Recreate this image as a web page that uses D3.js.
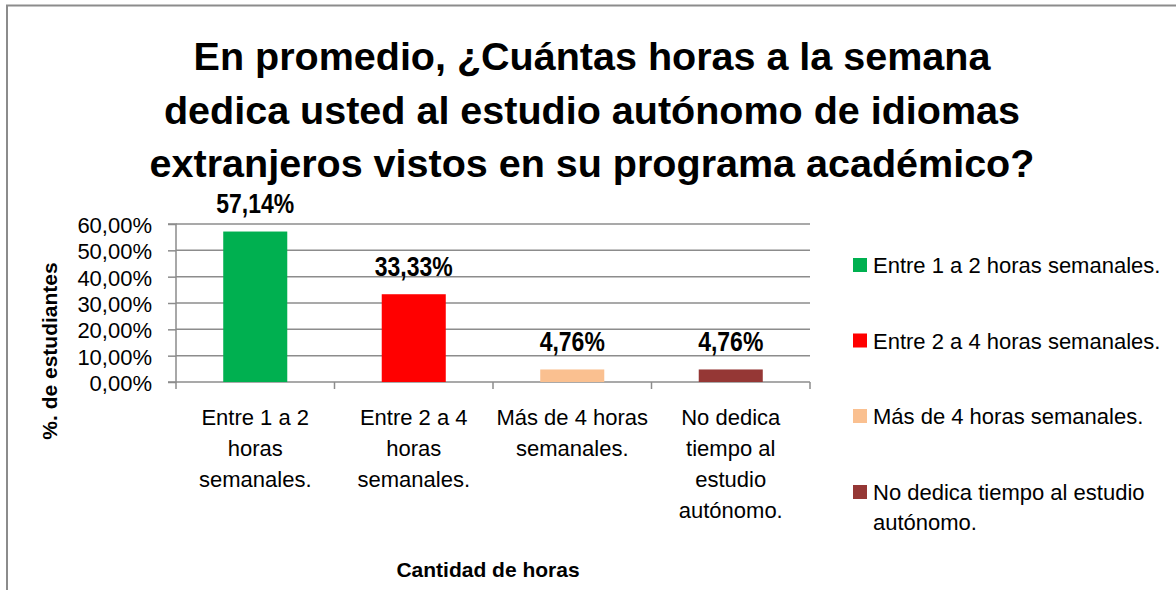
<!DOCTYPE html>
<html>
<head>
<meta charset="utf-8">
<script src="https://cdn.jsdelivr.net/npm/d3@7"></script>
<style>
  html, body { margin: 0; padding: 0; background: #fff; }
  svg { display: block; }
  text { font-family: "Liberation Sans", Arial, sans-serif; fill: #000; }
</style>
</head>
<body>
<svg id="chart" width="1176" height="590"></svg>
<script>
// ---- data ----
const titleLines = [
  "En promedio, ¿Cuántas horas a la semana",
  "dedica usted al estudio autónomo de idiomas",
  "extranjeros vistos en su programa académico?"
];
const categories = [
  "Entre 1 a 2 horas semanales.",
  "Entre 2 a 4 horas semanales.",
  "Más de 4 horas semanales.",
  "No dedica tiempo al estudio autónomo."
];
const values = [57.14, 33.33, 4.76, 4.76];
const valueLabels = ["57,14%", "33,33%", "4,76%", "4,76%"];
const yTicks = [0, 10, 20, 30, 40, 50, 60];
const yTickLabels = ["0,00%", "10,00%", "20,00%", "30,00%", "40,00%", "50,00%", "60,00%"];
const yAxisTitle = "%. de estudiantes";
const xAxisTitle = "Cantidad de horas";
const colors = ["#00B050", "#FF0000", "#FAC090", "#953735"];

// ---- layout ----
const svg = d3.select("#chart");
const plot = { left: 176, right: 810, top: 224, bottom: 382 };
const gridColor = "#8c8c8c";

// outer frame
svg.append("path")
  .attr("d", "M7,600 L7,5.5 L1180,5.5")
  .attr("fill", "none").attr("stroke", gridColor).attr("stroke-width", 2);

// title
titleLines.forEach((t, i) => {
  svg.append("text")
    .attr("transform", `translate(592,${70 + i * 53.5}) scale(1.04,1)`)
    .attr("text-anchor", "middle")
    .style("font-size", "38px").style("font-weight", "bold")
    .text(t);
});

const x = d3.scaleBand().domain(categories)
  .range([plot.left, plot.right]).paddingInner(0.596).paddingOuter(0.298);
const y = d3.scaleLinear().domain([0, 60]).range([plot.bottom, plot.top]);

// gridlines
svg.append("g").selectAll("line").data(yTicks.filter(d => d > 0)).join("line")
  .attr("x1", plot.left).attr("x2", plot.right)
  .attr("y1", d => y(d)).attr("y2", d => y(d))
  .attr("stroke", gridColor).attr("stroke-width", 1.5);

// y axis
const yAxis = d3.axisLeft(y).tickValues(yTicks).tickSize(8)
  .tickFormat((d, i) => yTickLabels[i]);
const gy = svg.append("g").attr("transform", `translate(${plot.left},0)`).call(yAxis);
gy.select(".domain").attr("stroke", gridColor).attr("stroke-width", 1.5).attr("d", `M-8,${plot.top}H0V${plot.bottom}H-8`);
gy.selectAll(".tick line").attr("stroke", gridColor).attr("stroke-width", 1.5);
gy.selectAll(".tick text")
  .attr("x", -24).attr("dy", null).attr("y", 8.5)
  .style("font-size", "22px").style("font-family", "'Liberation Sans', Arial, sans-serif").attr("fill", "#000");

// x axis line + ticks at band boundaries
const step = x.step();
const bounds = d3.range(categories.length + 1).map(i => plot.left + i * step);
svg.append("line").attr("x1", plot.left).attr("x2", plot.right)
  .attr("y1", plot.bottom).attr("y2", plot.bottom)
  .attr("stroke", gridColor).attr("stroke-width", 1.5);
svg.append("g").selectAll("line").data(bounds).join("line")
  .attr("x1", d => d).attr("x2", d => d)
  .attr("y1", plot.bottom).attr("y2", plot.bottom + 7)
  .attr("stroke", gridColor).attr("stroke-width", 1.5);

// bars
svg.append("g").selectAll("rect").data(values).join("rect")
  .attr("x", (d, i) => x(categories[i]))
  .attr("width", x.bandwidth())
  .attr("y", d => y(d))
  .attr("height", d => y(0) - y(d))
  .attr("fill", (d, i) => colors[i]);

// value labels
svg.append("g").selectAll("text").data(values).join("text")
  .attr("transform", (d, i) => `translate(${x(categories[i]) + x.bandwidth() / 2},${y(d) - 18.5}) scale(0.82,1)`)
  .attr("text-anchor", "middle")
  .style("font-size", "28px").style("font-weight", "bold")
  .text((d, i) => valueLabels[i]);

// text wrapping helper
const measurer = svg.append("text").style("font-size", "22px").attr("visibility", "hidden");
function wrap(str, maxW) {
  const words = str.split(" ");
  const lines = [];
  let cur = "";
  words.forEach(w => {
    const test = cur ? cur + " " + w : w;
    measurer.text(test);
    if (measurer.node().getComputedTextLength() > maxW && cur) {
      lines.push(cur); cur = w;
    } else cur = test;
  });
  if (cur) lines.push(cur);
  return lines;
}

// category labels
categories.forEach((c, i) => {
  const lines = wrap(c, step - 4);
  const t = svg.append("text").attr("text-anchor", "middle").style("font-size", "22px");
  lines.forEach((l, j) => {
    t.append("tspan").attr("x", x(c) + x.bandwidth() / 2).attr("y", 425 + j * 31).text(l);
  });
});

// axis titles
svg.append("text")
  .attr("transform", `translate(57,351) rotate(-90)`)
  .attr("text-anchor", "middle")
  .style("font-size", "21px").style("font-weight", "bold")
  .text(yAxisTitle);
svg.append("text")
  .attr("x", 488).attr("y", 577)
  .attr("text-anchor", "middle")
  .style("font-size", "21px").style("font-weight", "bold")
  .text(xAxisTitle);

// legend
const legendBase = [273, 348.5, 424, 500];
categories.forEach((c, i) => {
  const g = svg.append("g");
  g.append("rect").attr("x", 853).attr("y", legendBase[i] - 15)
    .attr("width", 14).attr("height", 14).attr("fill", colors[i]);
  const lines = wrap(c, 296);
  const t = g.append("text").style("font-size", "22px");
  lines.forEach((l, j) => {
    t.append("tspan").attr("x", 873).attr("y", legendBase[i] + j * 30).text(l);
  });
});
measurer.remove();
</script>
</body>
</html>
